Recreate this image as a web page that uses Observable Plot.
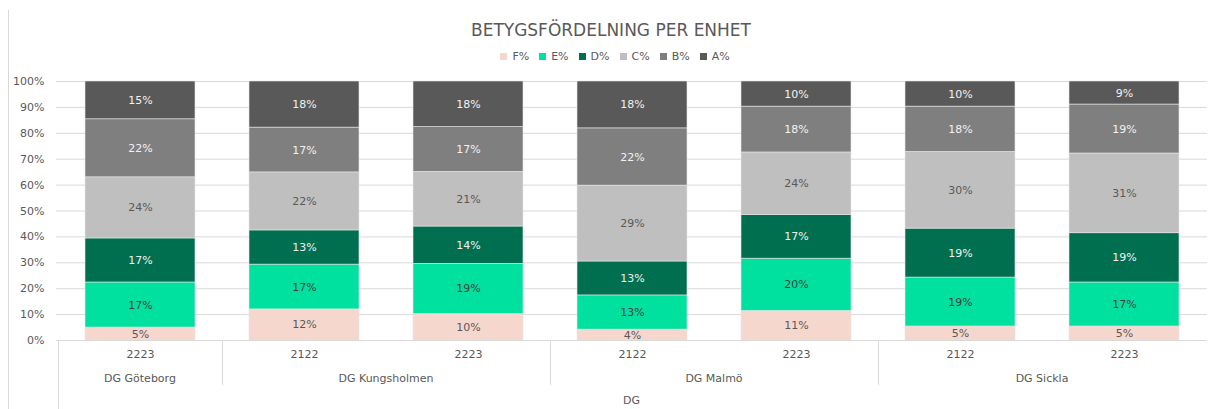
<!DOCTYPE html>
<html>
<head>
<meta charset="utf-8">
<script src="https://cdn.jsdelivr.net/npm/d3@7"></script>
<script src="https://cdn.jsdelivr.net/npm/@observablehq/plot@0.6"></script>
<style>
  html, body { margin: 0; padding: 0; background: #fff; }
  #wrap { position: relative; width: 1208px; height: 409px; overflow: hidden; font-family: "DejaVu Sans", sans-serif; }
  #frame { position: absolute; left: 8px; top: 10px; bottom: 0; border-left: 1px solid #d9d9d9; }
  #title { height: 45px; line-height: 60px; text-align: center; font-size: 17px; color: #595959; padding-left: 14px; }
  #legend { height: 22px; display: flex; justify-content: center; align-items: center; gap: 10px; font-size: 11px; color: #595959; padding-left: 22px; }
  .item { display: flex; align-items: center; gap: 5px; }
  .sw { width: 7px; height: 7px; display: inline-block; }
</style>
</head>
<body>
<div id="wrap">
  <div id="frame"></div>
  <div id="title">BETYGSFÖRDELNING PER ENHET</div>
  <div id="legend"></div>
  <div id="chart"></div>
</div>
<script>
// ---- data ----
const units = ["DG Göteborg", "DG Kungsholmen", "DG Kungsholmen", "DG Malmö", "DG Malmö", "DG Sickla", "DG Sickla"];
const years = ["2223", "2122", "2223", "2122", "2223", "2122", "2223"];
const grades = ["F%", "E%", "D%", "C%", "B%", "A%"];
const F = [5.0, 12.0, 10.2, 4.2, 11.4, 5.4, 5.4];
const E = [17.4, 17.3, 19.4, 13.2, 20.2, 18.9, 17.0];
const D = [17.0, 13.2, 14.4, 13.1, 16.9, 18.9, 19.0];
const C = [23.6, 22.4, 21.1, 29.3, 24.1, 29.6, 30.8];
const B = [22.4, 17.3, 17.3, 22.1, 17.7, 17.5, 18.9];
const A = [14.6, 17.8, 17.6, 18.1, 9.7, 9.7, 8.9];
const yTicks = [0, 0.1, 0.2, 0.3, 0.4, 0.5, 0.6, 0.7, 0.8, 0.9, 1.0];
const axisTitle = "DG";

const colors = ["#f6d7ce", "#00e09e", "#006f4f", "#bfbfbf", "#7f7f7f", "#595959"];
const labelColors = ["#595959", "#3f3f3f", "#f2f2f2", "#595959", "#f2f2f2", "#f2f2f2"];

const series = [F, E, D, C, B, A];
const keys = units.map((u, i) => u + "|" + years[i]);
const data = [];
keys.forEach((k, i) => {
  grades.forEach((g, j) => {
    data.push({key: k, unit: units[i], year: years[i], grade: g, value: series[j][i] / 100});
  });
});

// groups of consecutive bars with the same unit
const groups = [];
units.forEach((u, i) => {
  const last = groups[groups.length - 1];
  if (last && last.unit === u) { last.n++; last.lastKey = keys[i]; }
  else groups.push({unit: u, key: keys[i], lastKey: keys[i], n: 1});
});

// ---- legend ----
const legend = document.getElementById("legend");
grades.forEach((g, j) => {
  const it = document.createElement("span");
  it.className = "item";
  it.innerHTML = `<span class="sw" style="background:${colors[j]}"></span><span>${g}</span>`;
  legend.appendChild(it);
});

// ---- chart ----
const W = 1208, H = 342, mL = 56, mR = 1, mT = 14, mB = 69;

const chart = Plot.plot({
  width: W,
  height: H,
  marginLeft: mL,
  marginRight: mR,
  marginTop: mT,
  marginBottom: mB,
  style: {fontFamily: "DejaVu Sans, sans-serif", fontSize: "11px", color: "#595959", overflow: "visible"},
  x: {domain: keys, paddingInner: 0.33, paddingOuter: 0.165, axis: null},
  y: {domain: [0, 1], ticks: yTicks, axis: null},
  color: {domain: grades, range: colors},
  marks: [
    Plot.gridY(yTicks, {stroke: "#d9d9d9", strokeOpacity: 1}),
    Plot.axisY(yTicks, {tickSize: 0, tickPadding: 12, tickFormat: d3.format(".0%"), fill: "#595959", fontSize: 11, label: null}),
    Plot.barY(data, {x: "key", y: "value", fill: "grade", order: grades, stroke: "#e6e6e6", strokeWidth: 0.6}),
    Plot.text(data, Plot.stackY({
      x: "key", y: "value", z: "grade", order: grades,
      text: d => Math.round(d.value * 100) + "%",
      fill: d => labelColors[grades.indexOf(d.grade)],
      fontSize: 11
    })),
    Plot.axisX(keys, {tickSize: 0, tickPadding: 10, tickFormat: k => k.split("|")[1], fill: "#595959", fontSize: 11, label: null}),
    Plot.ruleY([0], {stroke: "#d9d9d9"})
  ]
});

// table under the bars: group labels, separators and axis title, placed with the plot's own x scale
const xs = chart.scale("x");
const step = xs.step;
const bw = xs.bandwidth;
const startOf = k => xs.apply(k) - (step - bw) / 2;
const centerOf = k => xs.apply(k) + bw / 2;
const yBase = H - mB;
const svg = d3.select(chart);
const table = svg.append("g").attr("stroke", "#d9d9d9").attr("fill", "none");
groups.forEach((g, i) => {
  const x = Math.round(startOf(g.key)) + 0.5;
  table.append("line")
    .attr("x1", x).attr("x2", x)
    .attr("y1", yBase).attr("y2", i === 0 ? H : yBase + 45);
});
const labels = svg.append("g")
  .attr("font-family", "DejaVu Sans, sans-serif").attr("font-size", 11)
  .attr("fill", "#595959").attr("text-anchor", "middle");
groups.forEach(g => {
  labels.append("text")
    .attr("x", (centerOf(g.key) + centerOf(g.lastKey)) / 2)
    .attr("y", yBase + 38).attr("dy", "0.35em").text(g.unit);
});
labels.append("text")
  .attr("x", (mL + W - mR) / 2).attr("y", yBase + 60).attr("dy", "0.35em").text(axisTitle);

document.getElementById("chart").appendChild(chart);
</script>
</body>
</html>
